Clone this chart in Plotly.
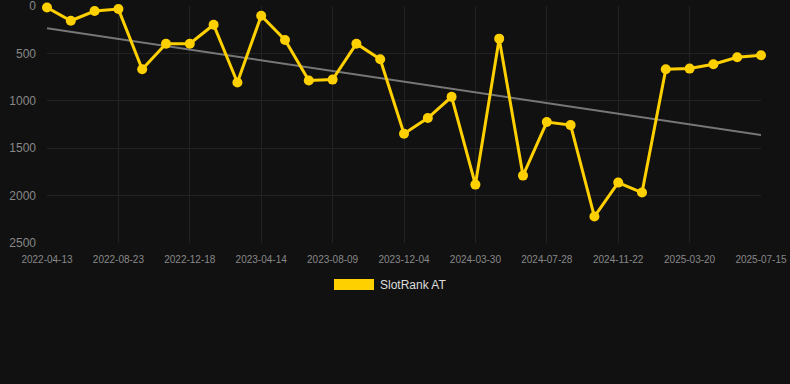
import numpy as np
import plotly.graph_objects as go

dates = [
    "2022-04-13", "2022-05-27", "2022-07-10", "2022-08-23", "2022-10-01", "2022-11-09",
    "2022-12-18", "2023-01-26", "2023-03-06", "2023-04-14", "2023-05-23", "2023-07-01",
    "2023-08-09", "2023-09-17", "2023-10-26", "2023-12-04", "2024-01-12", "2024-02-20",
    "2024-03-30", "2024-05-09", "2024-06-18", "2024-07-28", "2024-09-05", "2024-10-14",
    "2024-11-22", "2024-12-31", "2025-02-09", "2025-03-20", "2025-04-28", "2025-06-06",
    "2025-07-15",
]
ranks = [15, 155, 53, 32, 667, 397, 397, 197, 807, 102, 358, 786, 776, 397, 561,
         1347, 1182, 958, 1884, 344, 1789, 1224, 1256, 2221, 1863, 1968, 667, 660,
         614, 540, 519]
tick_labels = dates[::3]
y_ticks = [0, 500, 1000, 1500, 2000, 2500]
series_name = "SlotRank AT"

idx = np.arange(len(dates))
slope, intercept = np.polyfit(idx, ranks, 1)
trend = slope * idx + intercept

fig = go.Figure()
fig.add_trace(go.Scatter(
    x=dates, y=trend, mode="lines",
    line=dict(color="#777777", width=2),
    showlegend=False, hoverinfo="skip", cliponaxis=False,
))
fig.add_trace(go.Scatter(
    x=dates, y=ranks, mode="lines+markers", name=series_name,
    line=dict(color="#FFD000", width=3),
    marker=dict(color="#FFD000", size=10),
    cliponaxis=False, showlegend=False,
))

# Chart.js-style legend: filled box + label
fig.add_shape(type="rect", xref="paper", yref="paper",
              x0=(334 - 47) / 714, x1=(374 - 47) / 714,
              y0=(243 - 290) / 237, y1=(243 - 279) / 237,
              fillcolor="#FFD000", line=dict(width=0))
fig.add_annotation(text=series_name, xref="paper", yref="paper",
                   x=(378 - 47) / 714, y=(243 - 284.5) / 237,
                   xanchor="left", yanchor="middle", showarrow=False,
                   font=dict(size=12, color="#dddddd"))

fig.update_layout(
    width=790, height=384,
    paper_bgcolor="#111111", plot_bgcolor="#111111",
    margin=dict(l=47, r=29, t=6, b=141, autoexpand=False),
    font=dict(family="Liberation Sans, Arial, sans-serif", color="#888888"),
    xaxis=dict(
        type="category", tickmode="array", tickvals=tick_labels, ticktext=tick_labels,
        showgrid=True, gridcolor="#222222", gridwidth=1, zeroline=False,
        tickfont=dict(size=10, color="#888888"), ticks="", showline=False,
        range=[0, len(dates) - 1], tickangle=0, ticklabelstandoff=9,
        automargin=False,
    ),
    yaxis=dict(
        range=[2500, -0.5], tickmode="array", tickvals=y_ticks,
        showgrid=True, gridcolor="#222222", gridwidth=1, zeroline=False,
        tickfont=dict(size=12, color="#888888"), ticks="",
        showline=False, ticklabelstandoff=10, ticklabeloverflow="allow",
        automargin=False,
    ),
)

fig.write_html(
    "out.html",
    config={"displayModeBar": False},
    post_script="document.body.style.margin='0';document.body.style.background='#111111';",
)
